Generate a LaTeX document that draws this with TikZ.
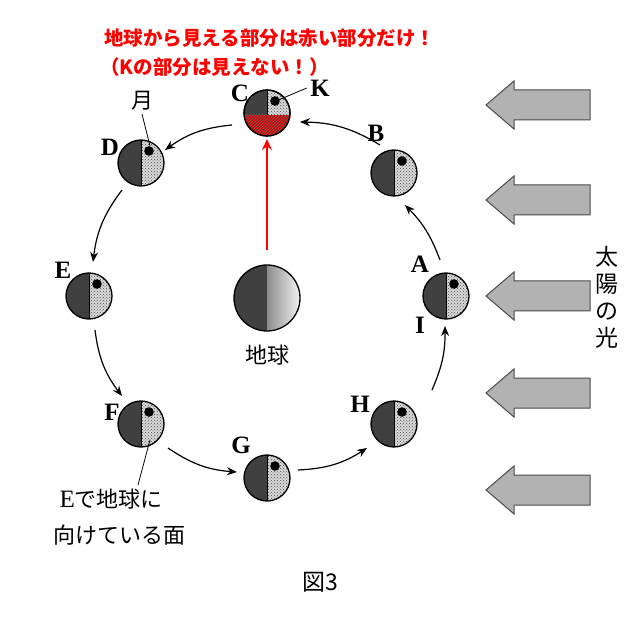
\documentclass[tikz,border=0pt]{standalone}
\usepackage{fontspec}
\setmainfont{Liberation Serif}
\newfontfamily\cjk{Noto Sans CJK JP}
\usetikzlibrary{patterns,arrows.meta}
\begin{document}
\begin{tikzpicture}[x=1pt,y=-1pt,
  lbl/.style={font=\bfseries\fontsize{25}{25}\selectfont},
  jp/.style={font=\cjk\fontsize{22}{24}\selectfont},
  orb/.style={-{Stealth[length=10pt,width=8pt]},line width=1.2pt},
  sunarr/.style={draw=black!70,fill=black!30,line width=1pt},
  moon/.pic={
    \begin{scope}
      \clip (0,0) circle(23);
      \fill[black!75] (-23,-23) rectangle (0,23);
      \fill[black!15] (0,-23) rectangle (23,23);
      \fill[pattern=crosshatch dots,pattern color=black!70] (0,-23) rectangle (23,23);
    \end{scope}
    \draw[line width=1.3pt] (0,0) circle(23);
    \draw[line width=0.6pt] (0,-23) -- (0,23);
    \fill (8,-12) circle(4.8);
  }]
\useasboundingbox (0,0) rectangle (640,620);
\fill[white] (0,0) rectangle (640,620);
% moons
\path (267,113) pic{moon} coordinate (mC);
\path (394,173) pic{moon} coordinate (mB);
\path (446,296) pic{moon} coordinate (mA);
\path (394,424) pic{moon} coordinate (mH);
\path (267,478) pic{moon} coordinate (mG);
\path (141,424) pic{moon} coordinate (mF);
\path (89,296) pic{moon} coordinate (mE);
\path (141,163) pic{moon} coordinate (mD);
% red lower half of C
\begin{scope}
  \clip (267,113) circle(23);
  \fill[red!85!black] (244,115) rectangle (290,136);
  \fill[pattern=north east lines,pattern color=black!60] (244,115) rectangle (290,136);
\end{scope}
\draw[line width=1.3pt] (267,113) circle(23);
% earth
\node[circle,minimum size=66pt,inner sep=0pt] (earth) at (267,298) {};
\begin{scope}
  \clip (267,298) circle(33);
  \fill[black!75] (234,265) rectangle (267,331);
  \shade[left color=black!45,right color=black!5] (267,265) rectangle (300,331);
\end{scope}
\draw[line width=1.3pt] (267,298) circle(33);
\node[jp] (tq) at (267,355) {地球};
% red arrow
\coordinate (rt) at (267,139);
\draw[red,line width=1.5pt,-{Stealth[length=11pt,width=10pt]}] (267,250) -- (rt);
% orbit arrows
\draw[orb] (380,145) to[bend right=15] (300,122);
\draw[orb] (232,125) to[bend right=15] (165,150);
\draw[orb] (122,190) to[bend right=15] (93,262);
\draw[orb] (95,330) to[bend right=15] (122,396);
\draw[orb] (168,448) to[bend right=15] (237,472);
\draw[orb] (298,470) to[bend right=15] (367,448);
\draw[orb] (432,390) to[bend right=12] (445,326);
\draw[orb] (440,260) to[bend right=12] (405,205);
% labels
\node[lbl] (lC) at (240,93) {C};
\node[lbl] (lK) at (320,88) {K};
\draw[line width=0.8pt] (lK.west) -- (276,101);
\node[lbl] (lB) at (376,133) {B};
\node[lbl] (lD) at (110,147) {D};
\node[jp] (lm) at (142,101) {月};
\draw[line width=0.8pt] (lm.south) -- (150,146);
\node[lbl] (lE) at (63,270) {E};
\node[lbl] (lF) at (112,412) {F};
\node[lbl] (lG) at (241,445) {G};
\node[lbl] (lH) at (360,404) {H};
\node[lbl] (lA) at (420,264) {A};
\node[lbl] (lI) at (420,325) {I};
\node[jp,anchor=west] (t1) at (56,499) {\fontspec{Liberation Serif}\fontsize{25}{25}\selectfont E\cjk\fontsize{22}{24}\selectfont で地球に};
\node[jp,anchor=west] (t2) at (50,535) {向けている面};
\draw[line width=0.8pt] (150,440) -- (138,485);
\node[font=\cjk\fontsize{23}{24}\selectfont] (fig) at (320,582) {図3};
% red text
\node[red,font=\cjk\bfseries\fontsize{19.5}{20}\selectfont,anchor=west,inner sep=0pt] (r1) at (104,38) {地球から見える部分は赤い部分だけ！};
\node[red,font=\cjk\bfseries\fontsize{19.5}{20}\selectfont,anchor=west,inner sep=0pt] (r2) at (100,67) {（Kの部分は見えない！）};
% sun arrows
\foreach \yy in {105,200,296,393,490}
  \draw[sunarr] (486,\yy) -- (514,\yy-24) -- (514,\yy-15) -- (590,\yy-15) -- (590,\yy+15) -- (514,\yy+15) -- (514,\yy+24) -- cycle;
\node[font=\cjk\fontsize{23}{27}\selectfont,align=center] (sl) at (607,297) {太\\陽\\の\\光};
\end{tikzpicture}
\end{document}
